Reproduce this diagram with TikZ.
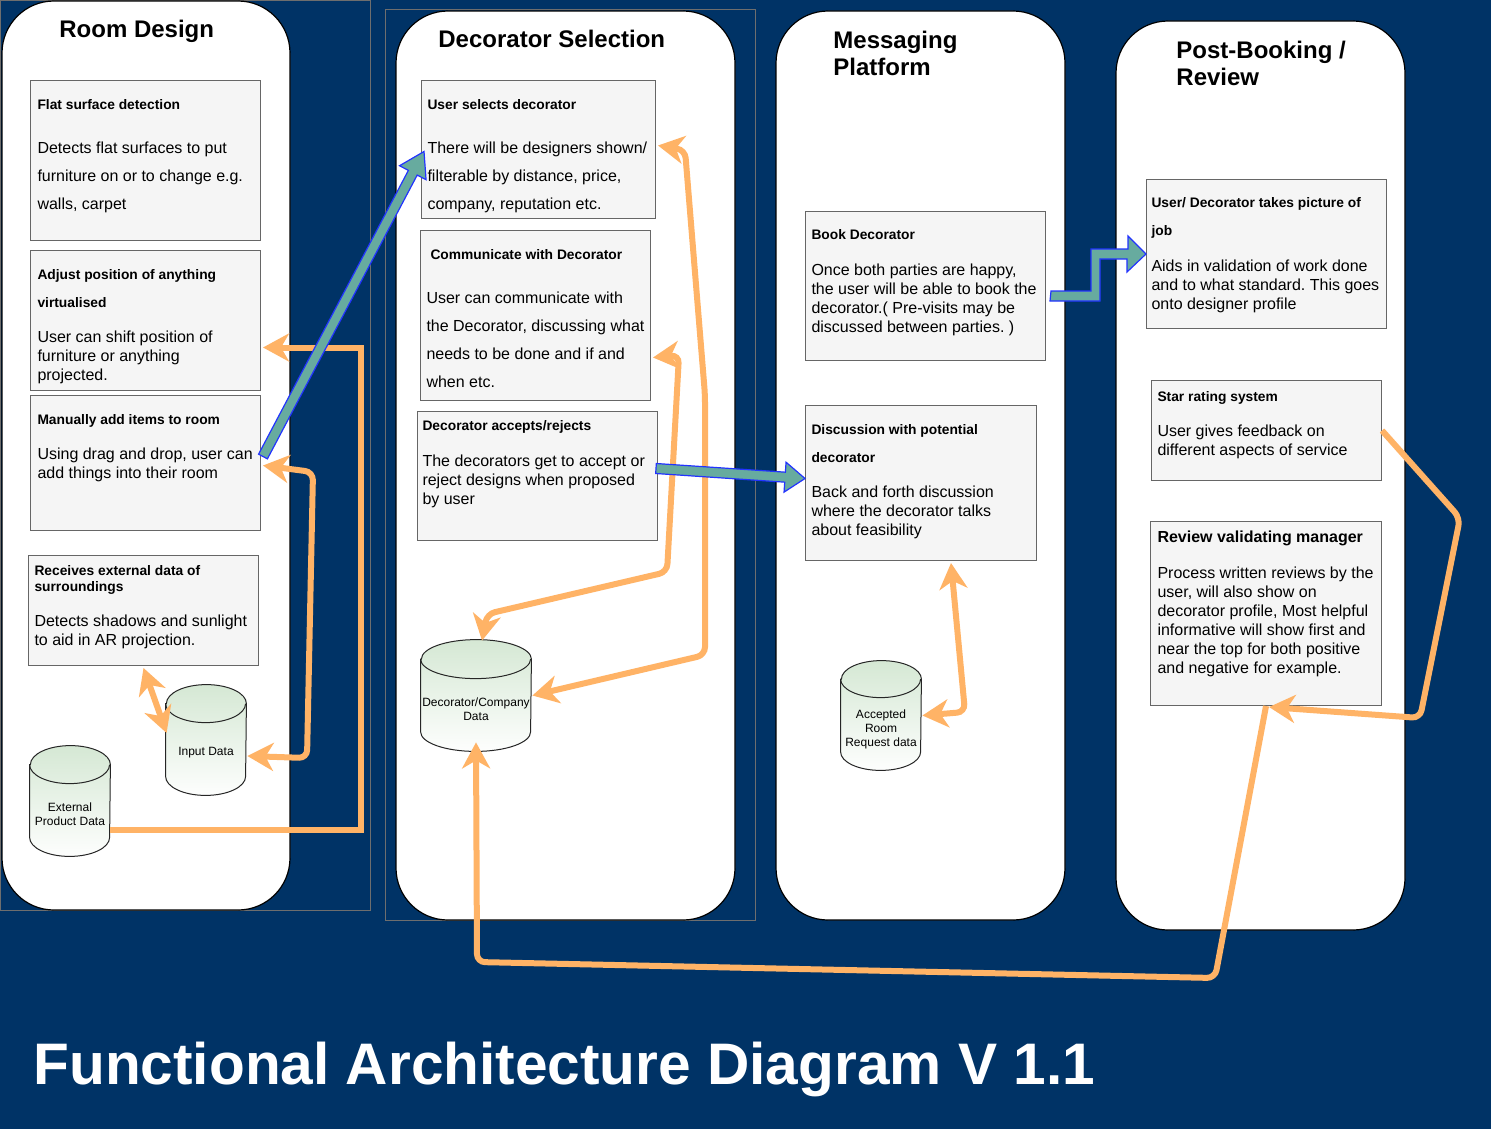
\documentclass[tikz,border=0pt]{standalone}
\usepackage{fontspec}
\setmainfont{Liberation Sans}
\usetikzlibrary{arrows.meta,calc}
\frenchspacing

\definecolor{navy}{HTML}{003366}
\definecolor{cardfill}{HTML}{F5F5F5}
\definecolor{cardline}{HTML}{666666}
\definecolor{frameline}{HTML}{6E6E6E}
\definecolor{flowor}{HTML}{FFB366}
\definecolor{tealfill}{HTML}{67AB9F}
\definecolor{tealline}{HTML}{2233FF}
\definecolor{cylgreen}{HTML}{D5E8D4}

\newdimen\px \px=0.5pt
\newcommand{\hd}[1]{{\fontsize{6.9}{9.5}\selectfont\bfseries #1}}
\newcommand{\hdbig}[1]{{\fontsize{8}{9.5}\selectfont\bfseries #1}}
\newcommand{\cardtext}[4]{\hspace*{#1\px}\parbox[c][#3\px][t]{\dimexpr#2\px-#1\px-1\px\relax}{\vspace*{1\px}\raggedright #4}\hspace*{1\px}}
\newcommand{\blockarrow}[4]{%
  \coordinate (ba-c) at ($(#2)!#3!(#1)$);
  \draw[tealarrow] ($(#1)!2.5pt!90:(#2)$) -- ($(ba-c)!2.5pt!90:(#2)$) -- ($(ba-c)!#4!90:(#2)$) -- (#2) -- ($(ba-c)!#4!-90:(#2)$) -- ($(ba-c)!2.5pt!-90:(#2)$) -- ($(#1)!2.5pt!-90:(#2)$) -- cycle;}
\newcommand{\drum}[3]{% node, half width, end radius
  \draw[drumline, top color=cylgreen, bottom color=white!96!cylgreen] ($(#1.north west)+(0,2*#3)$) -- ($(#1.south west)+(0,-2*#3)$) arc[start angle=180, end angle=360, x radius=#2, y radius=#3 pt] -- ($(#1.north east)+(0,2*#3)$) arc[start angle=0, end angle=180, x radius=#2, y radius=#3 pt] -- cycle;
  \draw[drumline] ($(#1.north west)+(0,2*#3)$) arc[start angle=180, end angle=360, x radius=#2, y radius=#3 pt];}

\tikzset{
  lane/.style={fill=white, draw=black, line width=0.6pt, rounded corners=26pt},
  frame/.style={draw=frameline, line width=0.5pt},
  lanetitle/.style={font=\fontsize{12}{13.5}\selectfont\bfseries, inner sep=0pt, align=left},
  card/.style={draw=cardline, fill=cardfill, line width=0.5pt, inner sep=0pt, anchor=north west, font=\fontsize{8}{9.5}\selectfont},
  store/.style={rectangle, minimum width=80\px, minimum height=110\px, inner sep=0pt},
  drumline/.style={draw=black!85, line width=0.5pt},
  storetext/.style={font=\fontsize{6}{7}\selectfont, align=center, inner sep=0pt},
  flow/.style={draw=flowor, line width=3pt, rounded corners=4pt, >={Stealth[length=13pt,width=14pt,inset=4pt]}},
  tealarrow/.style={fill=tealfill, draw=tealline, line width=0.6pt, line join=miter}
}

\begin{document}
\begin{tikzpicture}[x=0.5pt, y=-0.5pt]
\useasboundingbox (0,0) rectangle (1491,1129);
\fill[navy] (0,0) rectangle (1491,1129);

% lanes
\draw[frame] (0.5,0.5) rectangle (370,910);
\draw[frame] (385,10) rectangle (755,920);
\draw[lane] (2,1) rectangle (290,910);
\draw[lane] (396,11) rectangle (735,920);
\draw[lane] (776,11) rectangle (1065,920);
\draw[lane] (1116,21) rectangle (1405,930);

\node[lanetitle, anchor=base west] (troom) at (59,38) {Room Design};
\node[lanetitle, anchor=base west] (tsel) at (438,48) {Decorator Selection};
\node[lanetitle, anchor=north west] (tmsg) at (833,31) {Messaging\\Platform};
\node[lanetitle, anchor=north west] (tpost) at (1176,41) {Post-Booking /\\Review};

% room design
\node[card] (b1) at (30,80) {\cardtext{7}{230}{160}{\rule{0pt}{14pt}\hd{Flat surface detection}\\[12.5pt]Detects flat surfaces to put\\[4.5pt]furniture on or to change e.g.\\[4.5pt]walls, carpet}};
\node[card] (b2) at (30,250) {\cardtext{7}{230}{140}{\rule{0pt}{14pt}\hd{Adjust position of anything}\\[4.5pt]\hd{virtualised}\\[8pt]User can shift position of\\furniture or anything\\projected.}};
\node[card] (b3) at (30,395) {\cardtext{7}{230}{135}{\rule{0pt}{14pt}\hd{Manually add items to room}\\[8pt]Using drag and drop, user can\\add things into their room}};
\node[card] (b4) at (28,555) {\cardtext{6}{230}{110}{\rule{0pt}{9.5pt}\hd{Receives external data of}\\[-1.5pt]\hd{surroundings}\\[8pt]Detects shadows and sunlight\\to aid in AR projection.}};
\node[store] (inp) at (206,740) {};
\drum{inp}{20pt}{9.5}
\node[storetext] (inptext) at ($(inp.center)+(0,13)$) {Input Data};
\node[store] (ext) at (70,801) {};
\drum{ext}{20pt}{9.5}
\node[storetext] (exttext) at ($(ext.center)+(0,13)$) {External\\Product Data};

% decorator selection
\node[card] (b5) at (421,80) {\cardtext{6}{234}{138}{\rule{0pt}{14pt}\hd{User selects decorator}\\[12.5pt]There will be designers shown/\\[4.5pt]filterable by distance, price,\\[4.5pt]company, reputation etc.}};
\node[card] (b6) at (420,230) {\cardtext{6}{230}{170}{\rule{0pt}{14pt}\hspace*{4\px}\hd{Communicate with Decorator}\\[12.5pt]User can communicate with\\[4.5pt]the Decorator, discussing what\\[4.5pt]needs to be done and if and\\[4.5pt]when etc.}};
\node[card] (b7) at (417,411) {\cardtext{5}{240}{129}{\rule{0pt}{9pt}\hd{Decorator accepts/rejects}\\[8.5pt]The decorators get to accept or\\reject designs when proposed\\by user}};
\node[store, minimum width=110\px, minimum height=111\px] (dec) at (476,695.5) {};
\drum{dec}{27.5pt}{9.75}
\node[storetext] (dectext) at ($(dec.center)+(0,13.5)$) {Decorator/Company\\Data};

% messaging platform
\node[card] (b8) at (805,211) {\cardtext{6}{240}{149}{\rule{0pt}{13.5pt}\hd{Book Decorator}\\[8.5pt]Once both parties are happy,\\the user will be able to book the\\decorator.( Pre-visits may be\\discussed between parties. )}};
\node[card] (b9) at (805,405) {\cardtext{6}{231}{155}{\rule{0pt}{14pt}\hd{Discussion with potential}\\[4.5pt]\hd{decorator}\\[8pt]Back and forth discussion\\where the decorator talks\\about feasibility}};
\node[store, minimum height=109\px] (acc) at (881,715.5) {};
\drum{acc}{20pt}{9.25}
\node[storetext] (acctext) at ($(acc.center)+(0,13.5)$) {Accepted\\Room\\Request data};

% post-booking / review
\node[card] (b10) at (1146,179) {\cardtext{5}{240}{149}{\rule{0pt}{13.5pt}\hd{User/ Decorator takes picture of}\\[4.5pt]\hd{job}\\[8.5pt]Aids in validation of work done\\and to what standard. This goes\\onto designer profile}};
\node[card] (b11) at (1151,380) {\cardtext{6}{230}{100}{\rule{0pt}{10pt}\hd{Star rating system}\\[8pt]User gives feedback on\\different aspects of service}};
\node[card] (b12) at (1150,521) {\cardtext{7}{231}{184}{\rule{0pt}{10pt}\hdbig{Review validating manager}\\[8.5pt]Process written reviews by the\\user, will also show on\\decorator profile, Most helpful\\informative will show first and\\near the top for both positive\\and negative for example.}};

\node[anchor=base west, text=white, inner sep=0pt, font=\fontsize{29.3}{32}\selectfont\bfseries] (footer) at (33,1084) {Functional Architecture Diagram V 1.1};

% orange flows
\draw[flow, sharp corners, ->] ($(ext.east)+(0,29)$) -| ($(b2.east)+(100,27)$) -- ($(b2.east)+(2,27)$);
\draw[flow, <->] ($(b3.east)+(2,2.5)$) -- (313,472) -- (307,758) -- ($(inp.east)+(1,16)$);
\draw[flow, <->] ($(b4.south)+(0,2)$) -- ($(inp.west)+(1,-7)$);
\draw[flow, <->] ($(b5.east)+(2,-4)$) -- (685,150) -- (705,395) -- (705,655) -- ($(dec.east)+(1,0)$);
\draw[flow, <->] ($(b6.east)+(2,42)$) -- (679,355) -- (667,572) -- (487,614) [sharp corners] -- ($(dec.north)+(6,1)$);
\draw[flow, ->] (b12.south) -- (1215,978) -- (477,962) -- ($(dec.south)+(0,-9)$);
\draw[flow, ->] (b11.east) -- (1460,518) -- (1420,718) -- ($(b12.south)+(3,1)$);
\draw[flow, <->] ($(b9.south)+(30,2)$) -- (965,712) -- ($(acc.east)+(1,0)$);

% teal arrows
\coordinate (t1s) at ($(b3.east)+(2,-6.5)$);
\coordinate (t1e) at ($(b5.west)+(3,2)$);
\blockarrow{t1s}{t1e}{12pt}{7.5pt}
\coordinate (t2s) at ($(b7.east)+(-2,-7.5)$);
\coordinate (t2e) at ($(b9.west)+(0,-4.5)$);
\blockarrow{t2s}{t2e}{10pt}{7.5pt}
\coordinate (t3s) at ($(b8.east)+(5,5)$);
\draw[tealarrow] (t3s) -- ++(40,0) -- ++(0,-42) -- ++(37,0) -- ++(0,-13) -- (b10.west) -- ++(-19,18) -- ++(0,-13) -- ++(-27,0) -- ++(0,42) -- ++(-50,0) -- cycle;

\end{tikzpicture}
\end{document}
